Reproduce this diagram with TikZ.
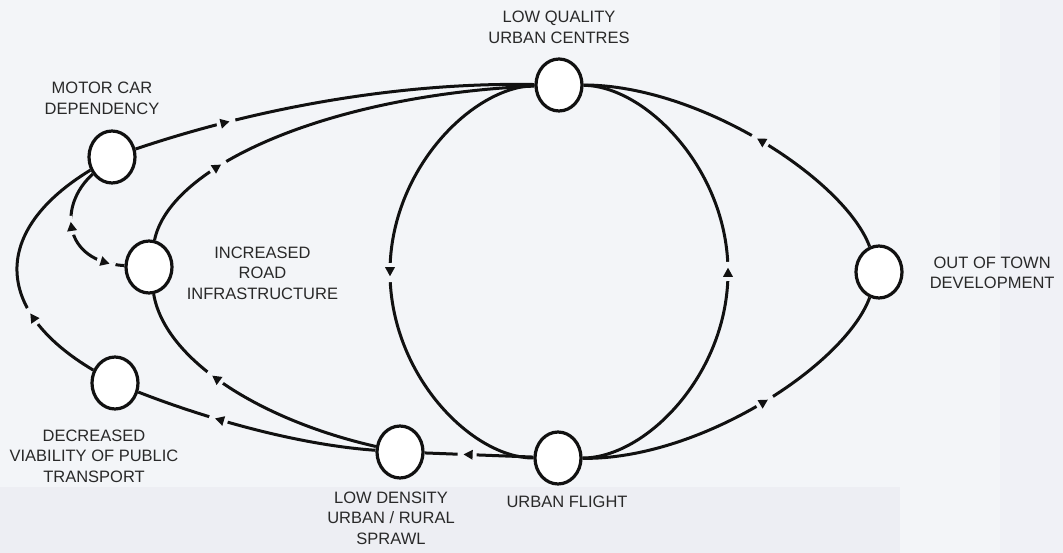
\documentclass[tikz,border=0pt]{standalone}
\usepackage{fontspec}
\newfontfamily\labelfamily{Liberation Sans}
\usepackage{tikz}
\usetikzlibrary{shapes.geometric,positioning,decorations.markings}

\definecolor{paper}{RGB}{243,245,248}
\definecolor{band}{RGB}{237,238,243}
\definecolor{ink}{RGB}{17,17,17}

% small arrow head sitting in a gap of the line
\newcommand{\flowtip}{%
  \fill[paper] (-8.5pt,-2.4pt) rectangle (10.5pt,2.4pt);
  \fill[ink] (4.5pt,0pt) -- (-4.5pt,5pt) -- (-4.5pt,-5pt) -- cycle;}
\newcommand{\flowtipback}{%
  \fill[paper] (-10.5pt,-2.4pt) rectangle (8.5pt,2.4pt);
  \fill[ink] (-4.5pt,0pt) -- (4.5pt,5pt) -- (4.5pt,-5pt) -- cycle;}

\begin{document}
\begin{tikzpicture}[
  x=1pt, y=-1pt,
  stage/.style={ellipse, draw=ink, fill=white, line width=3.2pt,
                minimum width=46pt, minimum height=52pt, inner sep=0pt},
  caption/.style={align=center, inner sep=0pt, text=ink!90,
                  font=\labelfamily\fontsize{16.5}{20.5}\selectfont},
  link/.style={draw=ink, line width=3pt},
  flow/.style={decoration={markings, mark=at position #1 with {\flowtip}},
               postaction={decorate}},
  flow/.default=0.5
]
  % background
  \fill[paper] (0,0) rectangle (1063,553);
  \fill[band] (0,487) rectangle (900,553);
  \fill[band!50!paper] (1000,0) rectangle (1063,553);
  \useasboundingbox (0,0) rectangle (1063,553);

  % stages
  \node[stage] (lq) at (559,85) {};
  \node[stage] (mcd) at (112,157) {};
  \node[stage] (iri) at (149,267) {};
  \node[stage] (dvpt) at (115,383) {};
  \node[stage] (lds) at (400,452) {};
  \node[stage] (uf) at (558,458) {};
  \node[stage] (oot) at (879,272) {};

  \coordinate (lqwest) at (390,272);
  \coordinate (lqeast) at (728,272);

  % captions
  \node[caption, above=14pt of lq] (lqtext) {LOW QUALITY\\URBAN CENTRES};
  \node[caption, above=15pt of mcd, xshift=-10pt] (mcdtext) {MOTOR CAR\\DEPENDENCY};
  \node[caption, right=13pt of iri, yshift=-6pt] (iritext) {INCREASED\\ROAD\\INFRASTRUCTURE};
  \node[caption, below=19pt of dvpt, xshift=-21pt] (dvpttext) {DECREASED\\VIABILITY OF PUBLIC\\TRANSPORT};
  \node[caption, below=12pt of lds, xshift=-9pt] (ldstext) {LOW DENSITY\\URBAN / RURAL\\SPRAWL};
  \node[caption, below=10pt of uf, xshift=9pt] (uftext) {URBAN FLIGHT};
  \node[caption, right=26pt of oot, yshift=-1pt] (oottext) {OUT OF TOWN\\DEVELOPMENT};

  % links
  \draw[link, flow=0.23] (mcd) .. controls (257,108) and (400,82) .. (lq);
  \draw[link, flow=0.23] (iri) .. controls (170,165) and (330,95) .. (lq);
  \draw[link, flow=0.31] (dvpt) .. controls (-8,310) and (-8,230) .. (mcd);
  \draw[link, decoration={markings,
          mark=at position 0.45 with {\flowtipback},
          mark=at position 0.85 with {\flowtip}},
        postaction={decorate}]
    (mcd) .. controls (58,205) and (62,262) .. (iri);
  \draw[link, flow=0.65] (lds) .. controls (300,445) and (210,420) .. (dvpt);
  \draw[link, flow=0.62] (lds) .. controls (260,420) and (165,360) .. (iri);
  \draw[link, flow=0.6] (uf) -- (lds);
  \draw[link, flow] (lq) .. controls (472,87) and (390,170) .. (lqwest)
                         .. controls (390,375) and (472,458) .. (uf);
  \draw[link, flow] (uf) .. controls (646,458) and (728,374) .. (lqeast)
                         .. controls (728,170) and (646,86) .. (lq);
  \draw[link, flow=0.45] (oot) .. controls (845,180) and (700,85) .. (lq);
  \draw[link, flow=0.56] (uf) .. controls (700,460) and (845,365) .. (oot);
\end{tikzpicture}
\end{document}
